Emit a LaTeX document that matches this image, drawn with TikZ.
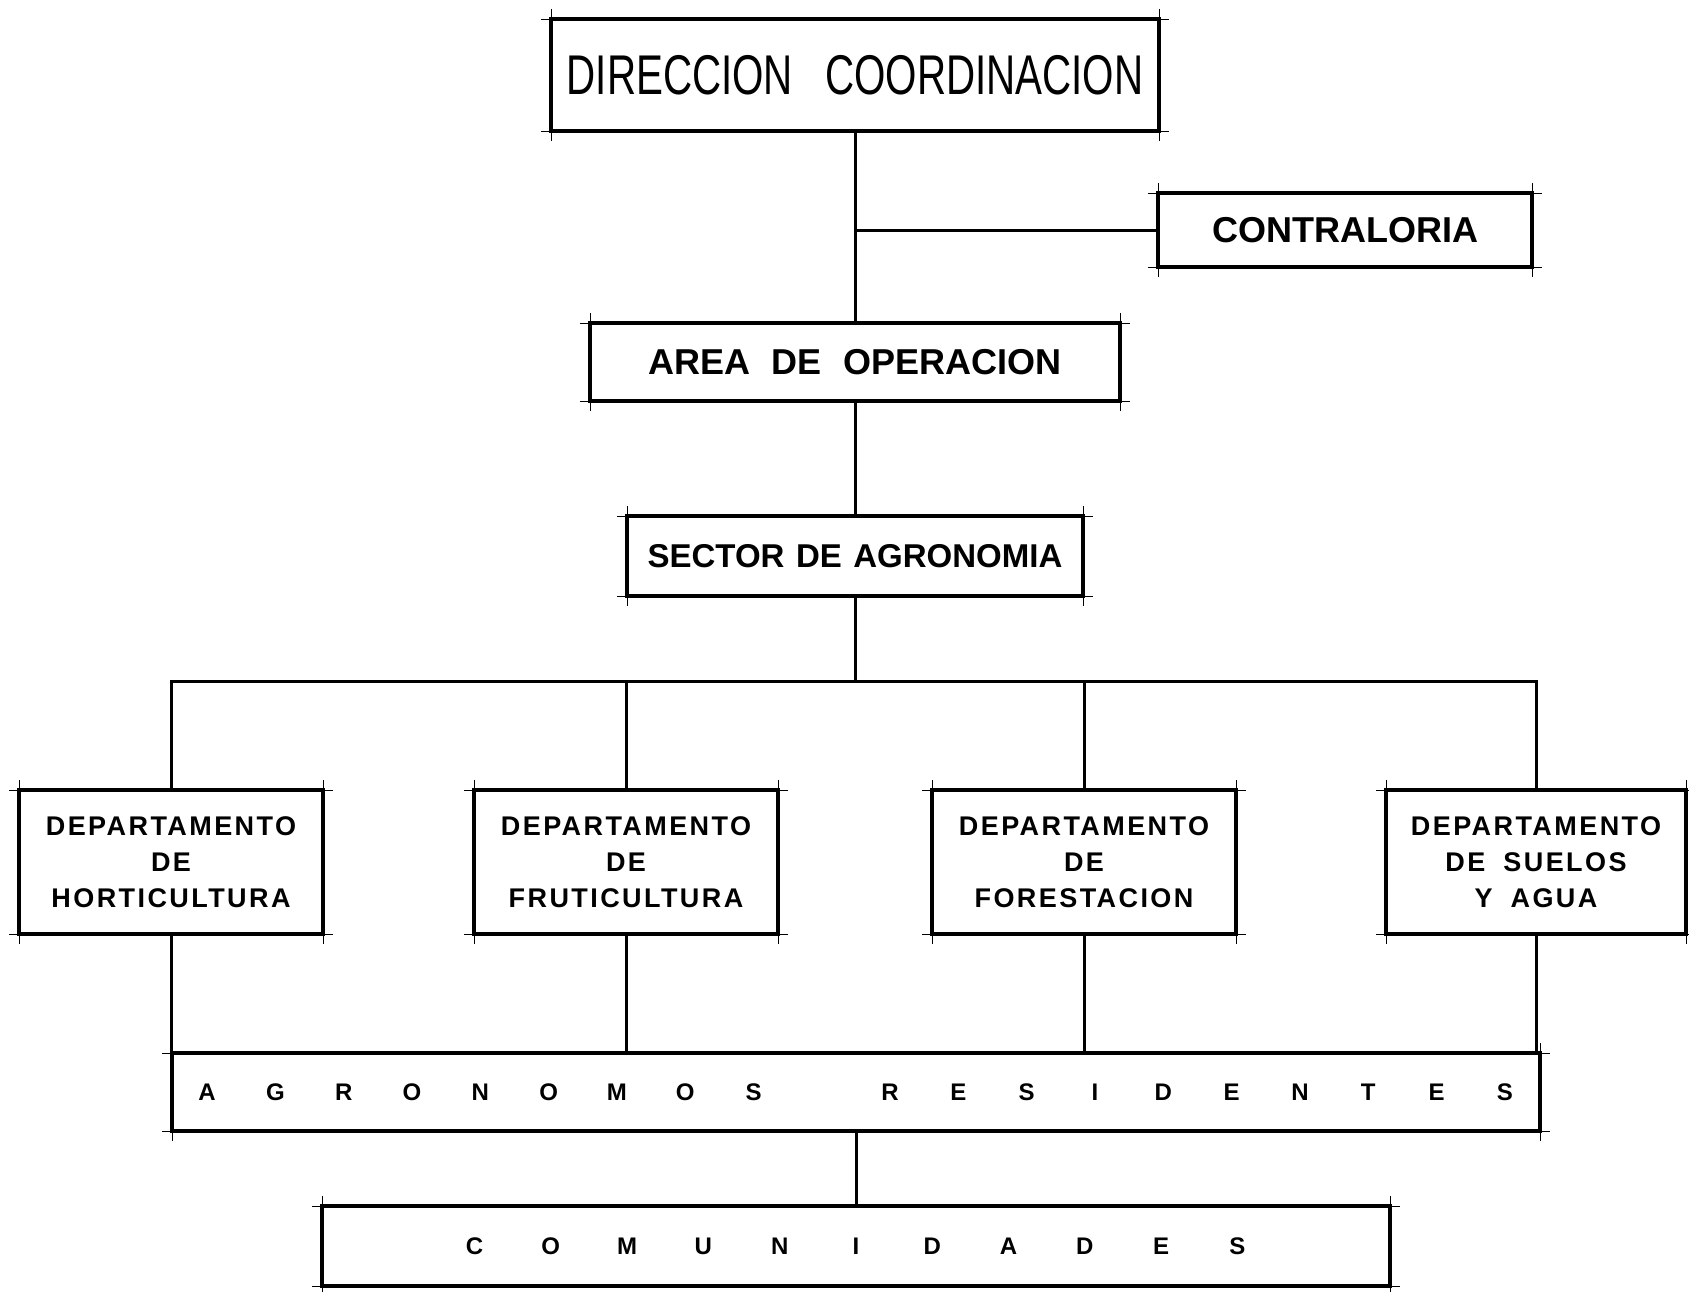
\documentclass[tikz,border=0pt]{standalone}
\usepackage{fontspec}
\setmainfont{Liberation Sans}
\newfontfamily\deptfont[LetterSpace=9]{Liberation Sans}
\usetikzlibrary{calc}
\def\ticks(#1){%
	\draw[tick] ($(#1.north west)+(-10,0)$) -- ($(#1.north east)+(10,0)$);
	\draw[tick] ($(#1.south west)+(-10,0)$) -- ($(#1.south east)+(10,0)$);
	\draw[tick] ($(#1.north west)+(0,-10)$) -- ($(#1.south west)+(0,10)$);
	\draw[tick] ($(#1.north east)+(0,-10)$) -- ($(#1.south east)+(0,10)$);}
\def\spread#1#2{\foreach \ch in {#2}{\makebox[#1]{\ch}}}

\begin{document}
\begin{tikzpicture}[x=0.5pt, y=-0.5pt,
		box/.style={draw, line width=1.8pt, outer sep=0pt, inner sep=0pt, align=center},
		dept/.style={box, minimum width=152pt, minimum height=72pt,
			font=\deptfont\bfseries\fontsize{13.5}{18}\selectfont},
		tick/.style={line width=0.5pt},
		link/.style={line width=1.5pt}]
			%%%%% START %%%%%
			\useasboundingbox (0, 0) rectangle (1689, 1291);
			
			\node[box, minimum width=304pt, minimum height=56pt, font=\fontsize{28}{32}\selectfont] (dir) at (855, 75)
				{\scalebox{0.72}[1]{DIRECCION\hspace{0.8em}COORDINACION}};
			\node[box, minimum width=187pt, minimum height=37pt, font=\bfseries\fontsize{18}{22}\selectfont] (contr) at (1345, 230)
				{CONTRALORIA};
			\node[box, minimum width=265pt, minimum height=39pt, font=\bfseries\fontsize{18}{22}\selectfont] (area) at (855, 362)
				{AREA\hspace{0.6em}DE\hspace{0.6em}OPERACION};
			\node[box, minimum width=228pt, minimum height=40pt, font=\bfseries\fontsize{16.5}{20}\selectfont] (sec) at (855, 556)
				{SECTOR\hspace{0.35em}DE\hspace{0.35em}AGRONOMIA};
			
			\node[dept] (d1) at (171, 862) {DEPARTAMENTO\\ DE\\ HORTICULTURA};
			\node[dept] (d2) at (626, 862) {DEPARTAMENTO\\ DE\\ FRUTICULTURA};
			\node[dept] (d3) at (1084, 862) {DEPARTAMENTO\\ DE\\ FORESTACION};
			\node[dept, minimum width=150pt] (d4) at (1536, 862) {DEPARTAMENTO\\ DE\hspace{0.3em} SUELOS\\ Y\hspace{0.3em} AGUA};
			
			\node[box, minimum width=684pt, minimum height=39pt, font=\bfseries\fontsize{12}{14}\selectfont] (agr) at (856, 1092)
				{\spread{34.15pt}{A,G,R,O,N,O,M,O,S,{},R,E,S,I,D,E,N,T,E,S}};
			\node[box, minimum width=534pt, minimum height=40pt, font=\bfseries\fontsize{12}{14}\selectfont] (com) at (856, 1246)
				{\spread{38.15pt}{C,O,M,U,N,I,D,A,D,E,S}};
			
			\ticks(dir) \ticks(contr) \ticks(area) \ticks(sec)
			\ticks(d1) \ticks(d2) \ticks(d3) \ticks(d4)
			\ticks(agr) \ticks(com)
			
			% lines
			\draw[link] (dir.south) -- (area.north);
			\coordinate (j1) at (dir.south |- contr.west);
			\draw[link] (j1) -- (contr.west);
			\draw[link] (area.south) -- (sec.north);
			
			\coordinate (bus) at (855, 681);
			\draw[link] (sec.south) -- (bus);
			\draw[link] (d1.north) |- (bus) -| (d4.north);
			\draw[link] (d2.north) -- (d2.north |- bus);
			\draw[link] (d3.north) -- (d3.north |- bus);
			
			\foreach \k in {1,2,3,4}
				\draw[link] (d\k.south) -- (d\k.south |- agr.north);
			\draw[link] (agr.south) -- (com.north);
			
			%%%%% END %%%%%
		\end{tikzpicture}
\end{document}
